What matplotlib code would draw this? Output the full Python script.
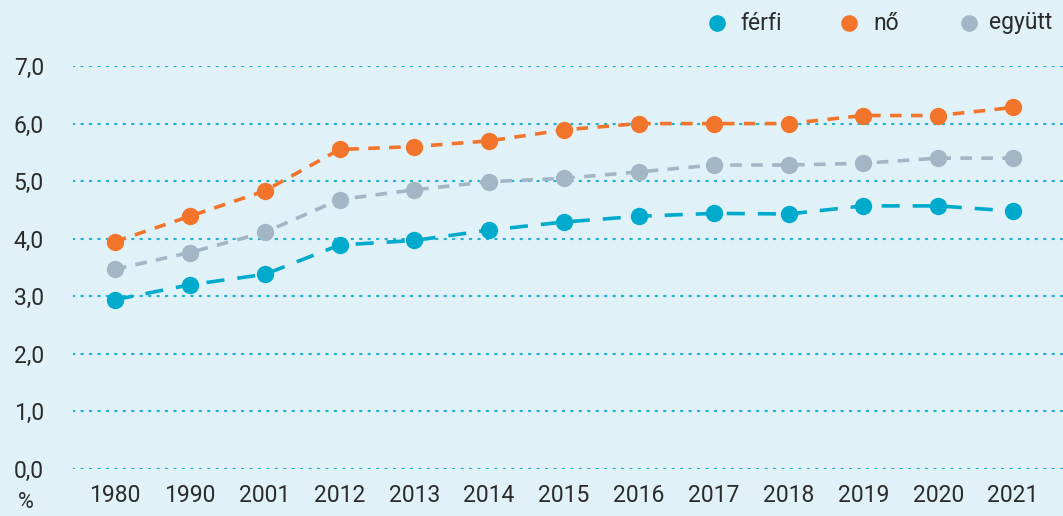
import matplotlib
matplotlib.use("Agg")
import matplotlib.pyplot as plt
from matplotlib.lines import Line2D

years = ["1980", "1990", "2001", "2012", "2013", "2014", "2015", "2016",
         "2017", "2018", "2019", "2020", "2021"]
ferfi = [2.94, 3.20, 3.38, 3.89, 3.97, 4.15, 4.29, 4.39, 4.44, 4.43, 4.57, 4.57, 4.48]
no = [3.95, 4.39, 4.83, 5.55, 5.60, 5.70, 5.89, 6.00, 6.00, 6.00, 6.14, 6.14, 6.28]
egyutt = [3.47, 3.76, 4.11, 4.68, 4.85, 4.99, 5.05, 5.16, 5.28, 5.28, 5.31, 5.40, 5.40]
yticks = [0, 1, 2, 3, 4, 5, 6, 7]
ytick_labels = ["0,0", "1,0", "2,0", "3,0", "4,0", "5,0", "6,0", "7,0"]
series_names = ["férfi", "nő", "együtt"]

BG = "#e0f2f7"
C_BLUE = "#00aacc"
C_ORANGE = "#f3742b"
C_GRAY = "#a3b6c5"
TXT = "#2b2b2b"
FS = 16.5

plt.rcParams['font.family'] = ['Roboto', 'DejaVu Sans']

W, H = 1063, 516
fig = plt.figure(figsize=(W / 100, H / 100), dpi=100, facecolor=BG)
left, right = 73, 1063
top, bottom = 66, 469
ax = fig.add_axes([left / W, 1 - bottom / H, (right - left) / W, (bottom - top) / H])
ax.set_facecolor(BG)

x = list(range(len(years)))
span = 1013 - 115
step = span / 12
ax.set_xlim(-(115 - left) / step, 12 + (right - 1013) / step)
ax.set_ylim(0, 7)

for yv in yticks:
    ax.axhline(yv, color="#1fb2d0", lw=1.6, ls=(0, (0.6, 3.2)), zorder=1, dash_capstyle="round")

ax.plot(x, egyutt, color=C_GRAY, lw=2.6, ls=(0, (3.2, 2.6)), marker="o", ms=12.5,
        markeredgewidth=0, zorder=3, clip_on=False)
ax.plot(x, no, color=C_ORANGE, lw=2.6, ls=(0, (3.2, 2.6)), marker="o", ms=12.5,
        markeredgewidth=0, zorder=4, clip_on=False)
ax.plot(x, ferfi, color=C_BLUE, lw=2.6, ls=(0, (5.0, 3.6)), marker="o", ms=12.5,
        markeredgewidth=0, zorder=5, clip_on=False)

ax.set_xticks(x)
ax.set_xticklabels(years)
ax.set_yticks(yticks)
ax.set_yticklabels(ytick_labels)
ax.tick_params(axis="both", length=0, labelsize=FS, colors=TXT)
ax.tick_params(axis="x", pad=11)
ax.tick_params(axis="y", pad=21)
for s in ax.spines.values():
    s.set_visible(False)

fig.text(26 / W, 1 - 503 / H, "%", fontsize=FS - 1, color=TXT, ha="center", va="center")

# legend, placed item by item
leg_colors = [C_BLUE, C_ORANGE, C_GRAY]
marker_x = [717, 849, 969]
text_x = [740, 873, 989]
leg_y = 1 - 23 / H
for name, c, mx, tx in zip(series_names, leg_colors, marker_x, text_x):
    fig.add_artist(Line2D([mx / W], [leg_y], ls="none", marker="o", ms=12,
                          color=c, markeredgewidth=0, transform=fig.transFigure))
    fig.text(tx / W, leg_y, name, fontsize=FS, color=TXT, ha="left", va="center")

fig.savefig("out.png", dpi=100, facecolor=BG)
